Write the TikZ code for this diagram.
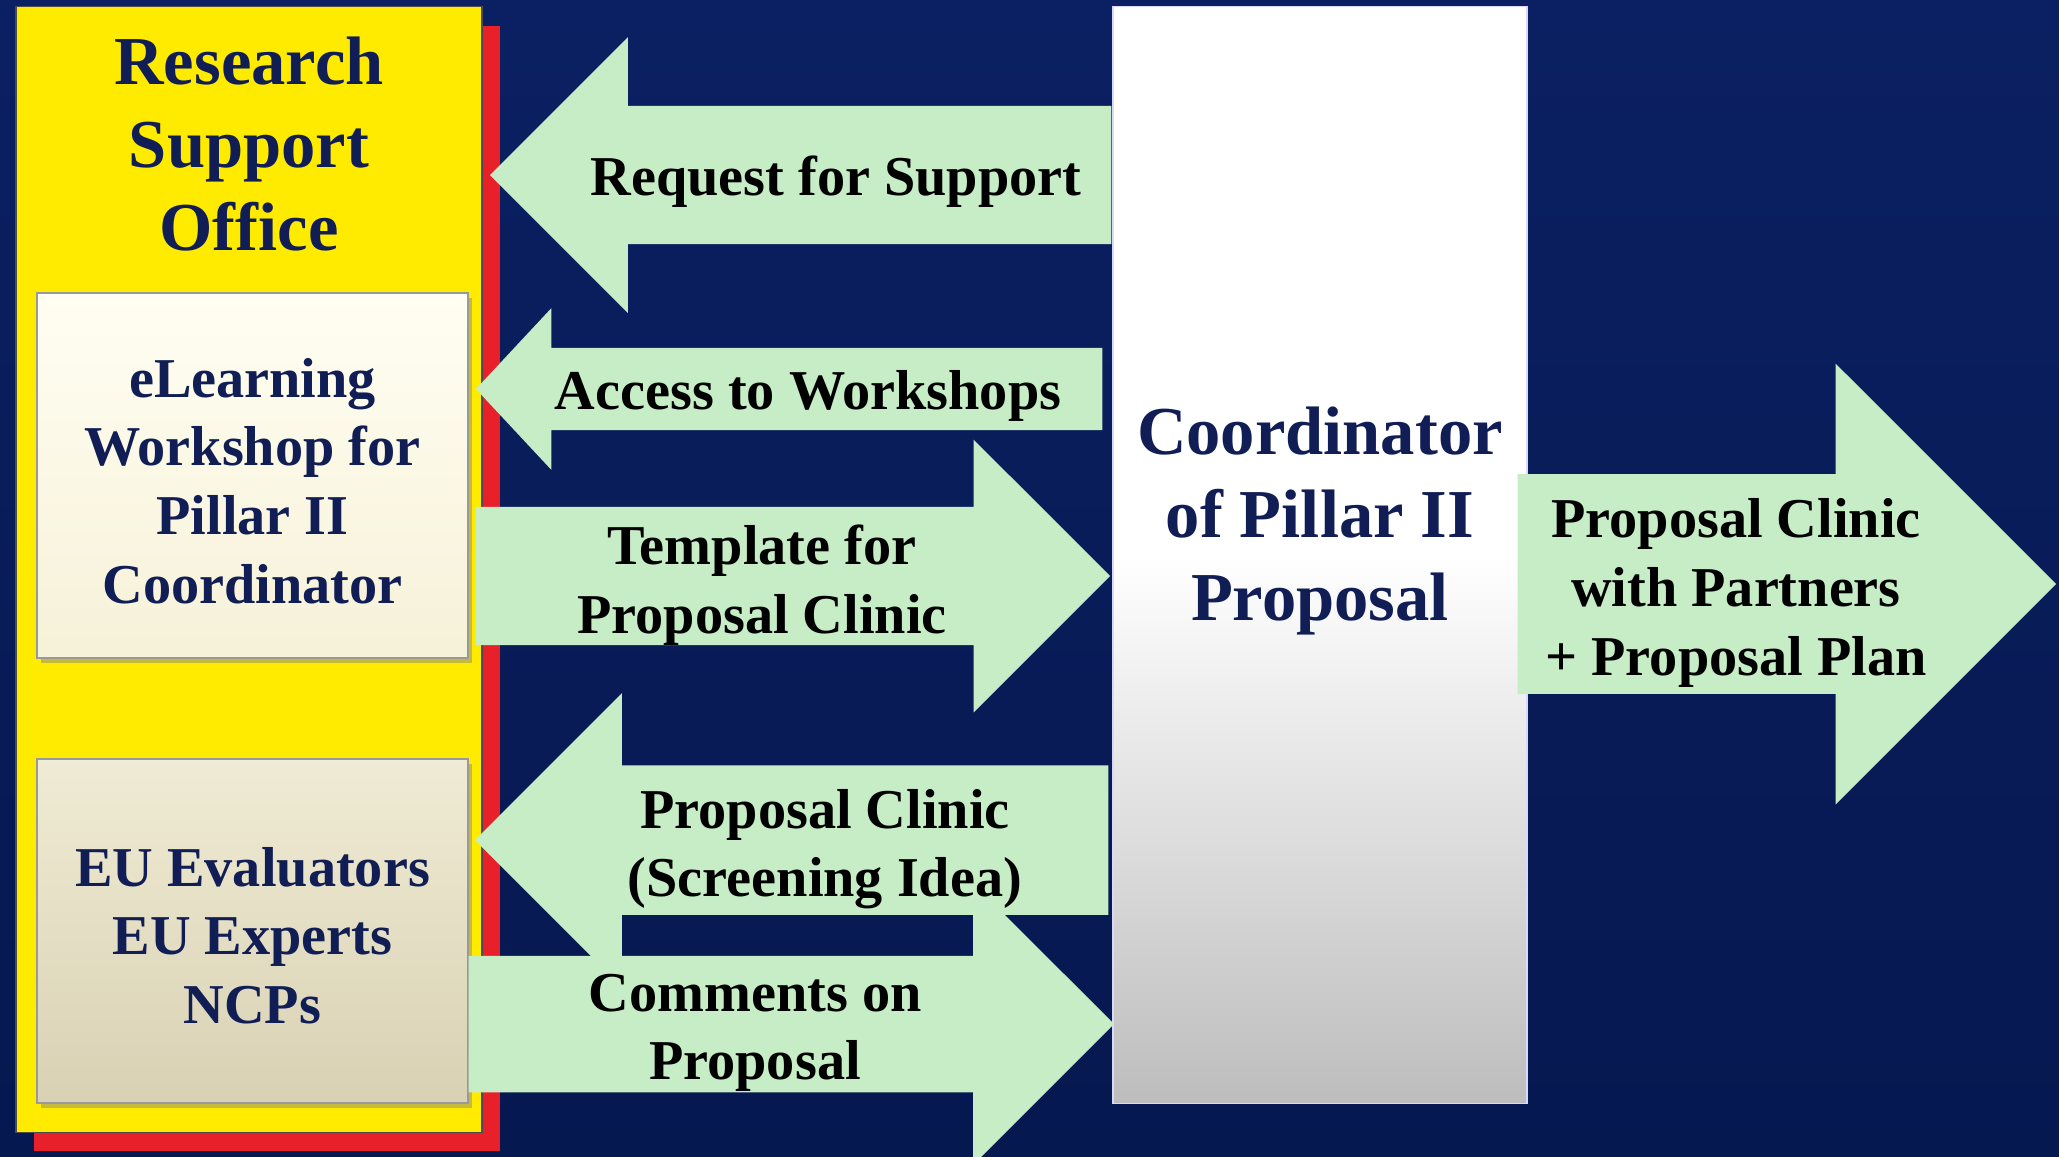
\documentclass[tikz,border=0pt]{standalone}
\usepackage{fontspec}
\setmainfont{Liberation Serif}
\usetikzlibrary{shapes,arrows,positioning,shadows}

\definecolor{bgtop}{HTML}{0B2062}
\definecolor{bgbottom}{HTML}{061850}
\definecolor{rsoyellow}{HTML}{FFEB00}
\definecolor{shadowred}{HTML}{E8202A}
\definecolor{textnavy}{HTML}{111E55}
\definecolor{creamtop}{HTML}{FFFEF2}
\definecolor{creambottom}{HTML}{F6F1D8}
\definecolor{beigetop}{HTML}{F0EBD4}
\definecolor{beigebottom}{HTML}{D8D1B4}
\definecolor{coordgrey}{HTML}{BDBDBD}
\definecolor{arrowgreen}{HTML}{C6EDC6}

\begin{document}
\begin{tikzpicture}[x=0.01cm, y=-0.01cm]
    % Styles
    \tikzstyle{office} = [rectangle, draw=black!70, fill=rsoyellow, minimum width=4.66cm, minimum height=11.25cm, general shadow={fill=shadowred, shadow xshift=0.18cm, shadow yshift=-0.19cm}]
    \tikzstyle{inner_box} = [rectangle, draw=black!40, minimum width=4.31cm, drop shadow={shadow xshift=0.04cm, shadow yshift=-0.05cm, opacity=0.45}]
    \tikzstyle{box_txt} = [align=center, text=textnavy, inner sep=0pt, font=\bfseries\fontsize{16}{19.5}\selectfont]
    \tikzstyle{coordinator} = [rectangle, draw=blue!15, top color=white, bottom color=coordgrey, middle color=white, minimum width=4.14cm, minimum height=10.96cm]
    \tikzstyle{title_txt} = [align=center, text=textnavy, inner sep=0pt, font=\bfseries\fontsize{19.5}{23.6}\selectfont]
    \tikzstyle{block} = [single arrow, fill=arrowgreen, inner xsep=0pt, single arrow tip angle=90, anchor=tip]
    \tikzstyle{block_left} = [block, rotate=180]
    \tikzstyle{arrow_txt} = [align=center, inner sep=0pt, font=\bfseries\fontsize{16}{19.5}\selectfont]

    % Background
    \fill[top color=bgtop, bottom color=bgbottom] (0,0) rectangle (2059,1157);
    \useasboundingbox (0,0) rectangle (2059,1157);

    % Research support office
    \node[office] (rso) at (249,569.5) {};
    \node[title_txt, below=0.30cm of rso.north] (rsotitle) {Research\\Support\\Office};
    \node[inner_box, top color=creamtop, bottom color=creambottom, minimum height=3.65cm] (elearn) at (252.5,475.5) {};
    \node[inner_box, top color=beigetop, bottom color=beigebottom, minimum height=3.44cm] (experts) at (252.5,931) {};
    \node[box_txt] (elearnlbl) at ([yshift=-0.055cm]elearn.center) {eLearning\\Workshop for\\Pillar II\\Coordinator};
    \node[box_txt] (expertslbl) at ([yshift=-0.045cm]experts.center) {EU Evaluators\\EU Experts\\NCPs};

    % Coordinator
    \node[coordinator] (coord) at (1320,555) {};
    \node[title_txt] (coordlbl) at (1320,521) {Coordinator\\of Pillar II\\Proposal};

    % Block arrows
    \node[block_left, minimum height=6.21cm, inner ysep=0.685cm, single arrow head extend=0.685cm] (request) at (489,175) {};
    \node[block_left, minimum height=6.26cm, inner ysep=0.405cm, single arrow head extend=0.395cm, single arrow tip angle=94] (access) at (475,389) {};
    \node[block, minimum height=6.34cm, inner ysep=0.685cm, single arrow head extend=0.67cm] (template) at (1111,576) {};
    \node[block, minimum height=6.45cm, inner ysep=0.675cm, single arrow head extend=0.725cm] (comments) at (1115,1024) {};
    \node[block_left, minimum height=6.33cm, inner ysep=0.74cm, single arrow head extend=0.72cm] (screening) at (474,840) {};
    \node[block, minimum height=5.38cm, inner ysep=1.09cm, single arrow head extend=1.105cm] (clinic) at (2057,584) {};

    % Labels
    \node[arrow_txt] (requestlbl) at (836,182) {Request for Support};
    \node[arrow_txt] (accesslbl) at (808,396) {Access to Workshops};
    \node[arrow_txt] (templatelbl) at (762,585) {Template for\\Proposal Clinic};
    \node[arrow_txt] (screeninglbl) at (825,849) {Proposal Clinic\\(Screening Idea)};
    \node[arrow_txt] (commentslbl) at (755,1033) {Comments on\\Proposal};
    \node[arrow_txt] (cliniclbl) at (1736,593) {Proposal Clinic\\with Partners\\+ Proposal Plan};

\end{tikzpicture}
\end{document}
